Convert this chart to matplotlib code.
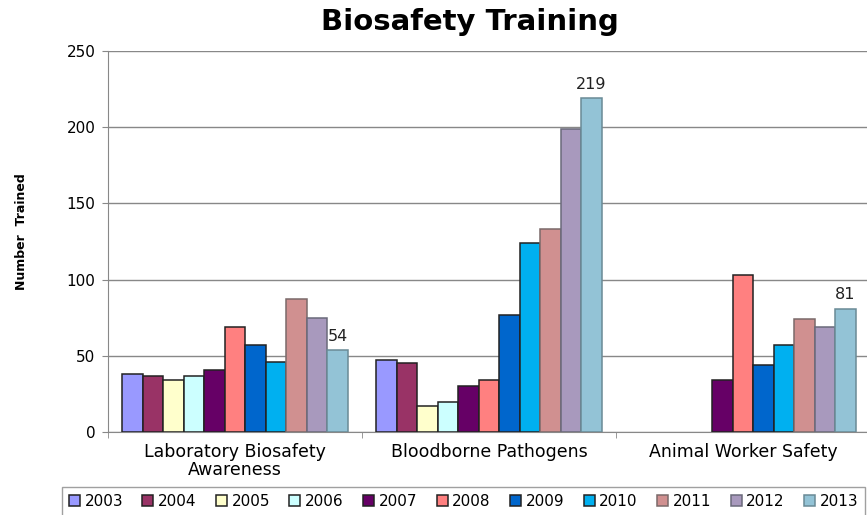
import matplotlib.pyplot as plt
import numpy as np

plt.rcParams.update({
    "font.family": ["DejaVu Sans"],
})

categories = ["Laboratory Biosafety\nAwareness", "Bloodborne Pathogens", "Animal Worker Safety"]
years = ["2003", "2004", "2005", "2006", "2007", "2008", "2009", "2010", "2011", "2012", "2013"]
lab_awareness = [38, 37, 34, 37, 41, 69, 57, 46, 87, 75, 54]
bloodborne = [47, 45, 17, 20, 30, 34, 77, 124, 133, 199, 219]
animal_worker = [0, 0, 0, 0, 34, 103, 44, 57, 74, 69, 81]

colors = ["#9999FF", "#993366", "#FFFFCC", "#CCFFFF", "#660066", "#FF8080",
          "#0066CC", "#00B0F0", "#D09090", "#A899BD", "#93C3D6"]
edges = ["#222222"] * 8 + ["#7a6a6a", "#6a6a7a", "#6a8a96"]

values = np.array([lab_awareness, bloodborne, animal_worker])

fig = plt.figure(figsize=(8.67, 5.15), dpi=100)
ax = fig.add_axes([108 / 867, 1 - 432 / 515, 762 / 867, 381 / 515])

n = len(years)
width = 0.0807
x = np.arange(len(categories))
offsets = (np.arange(n) - (n - 1) / 2) * width

for i, yr in enumerate(years):
    vals = values[:, i]
    mask = vals > 0
    ax.bar(x[mask] + offsets[i], vals[mask], width, color=colors[i],
           edgecolor=edges[i], linewidth=1.1, label=yr, zorder=3)

# value labels for the last year
for xi, v in zip(x, values[:, -1]):
    ax.text(xi + offsets[-1], v + 4, str(v), ha="center", va="bottom",
            fontsize=11.5, color="#222222")

ax.set_xlim(-0.5, 2.5)
ax.set_ylim(0, 250)
ax.set_yticks(range(0, 251, 50))
ax.yaxis.grid(True, color="#888888", linewidth=1.0, zorder=0)
ax.set_xticks(x)
ax.set_xticklabels(categories, fontsize=12.5, linespacing=1.0)
ax.set_xticks([-0.5, 0.5, 1.5, 2.5], minor=True)
ax.tick_params(axis="x", which="major", length=0, pad=8)
ax.tick_params(axis="x", which="minor", length=4, color="#888888")
ax.tick_params(axis="y", labelsize=11, length=4, color="#888888", pad=5)

for s in ["top", "right"]:
    ax.spines[s].set_visible(False)
ax.spines["left"].set_color("#888888")
ax.spines["bottom"].set_color("#888888")

fig.text(22 / 867, 1 - 232 / 515, "Number  Trained", rotation=90, ha="center",
         va="center", fontsize=9, fontweight="bold")
fig.text(470 / 867, 1 - 22 / 515, "Biosafety Training", ha="center",
         va="center", fontsize=21, fontweight="bold")

leg = fig.legend(loc="upper left", bbox_to_anchor=(62 / 867, 1 - 487 / 515),
                 ncol=n, fontsize=11, frameon=True, fancybox=False,
                 handlelength=0.72, handleheight=0.72, handletextpad=0.3,
                 columnspacing=1.27, borderpad=0.45, borderaxespad=0)
leg.get_frame().set_edgecolor("#888888")
leg.get_frame().set_linewidth(1.0)

fig.savefig("out.png", dpi=100)
